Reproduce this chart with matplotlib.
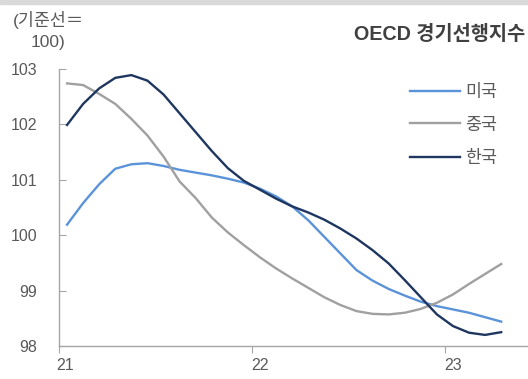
import matplotlib
matplotlib.use("Agg")
import matplotlib.pyplot as plt
from matplotlib.patches import Rectangle

plt.rcParams['font.family'] = ['Liberation Sans', 'Noto Sans CJK KR', 'DejaVu Sans']

# monthly, Jan 2021 .. Apr 2023
months = list(range(28))
us = [100.19, 100.58, 100.92, 101.20, 101.28, 101.30, 101.25, 101.18, 101.13, 101.08,
      101.02, 100.95, 100.84, 100.70, 100.52, 100.27, 99.97, 99.67, 99.37, 99.18,
      99.03, 98.91, 98.80, 98.72, 98.66, 98.60, 98.52, 98.44]
china = [102.74, 102.71, 102.55, 102.37, 102.10, 101.80, 101.42, 100.97, 100.67, 100.32,
         100.05, 99.82, 99.60, 99.40, 99.22, 99.05, 98.88, 98.74, 98.63, 98.58,
         98.57, 98.60, 98.67, 98.78, 98.93, 99.12, 99.30, 99.48]
korea = [101.99, 102.37, 102.65, 102.84, 102.89, 102.79, 102.54, 102.20, 101.86, 101.52,
         101.21, 100.98, 100.82, 100.66, 100.52, 100.41, 100.28, 100.12, 99.94, 99.73,
         99.49, 99.19, 98.88, 98.57, 98.36, 98.24, 98.20, 98.25]
series_names = ['미국', '중국', '한국']
colors = ['#5b93d9', '#a0a0a0', '#1e3660']
year_labels = ['21', '22', '23']

fig = plt.figure(figsize=(5.28, 3.79), dpi=100)
ax = fig.add_axes([59/528, 33/379, 469/528, 277/379])

x = [m + 0.5 for m in months]
for vals, name, c in zip([us, china, korea], series_names, colors):
    ax.plot(x, vals, color=c, lw=1.7, label=name)

ax.set_xlim(0, 469/16.08)
ax.set_ylim(98, 103)

for s in ['top', 'right']:
    ax.spines[s].set_visible(False)
for s in ['left', 'bottom']:
    ax.spines[s].set_color('#a6a6a6')
    ax.spines[s].set_linewidth(1.0)

ax.set_yticks([98, 99, 100, 101, 102, 103])
ax.tick_params(axis='y', direction='in', length=5, color='#a6a6a6', pad=15.5,
               labelsize=11.5, labelcolor='#595959')
ax.set_xticks([0, 12, 24])
ax.set_xticklabels([])
ax.tick_params(axis='x', which='major', direction='out', length=5, color='#a6a6a6')
ax.set_xticks([0.4, 12.5, 24.5], minor=True)
ax.set_xticklabels(year_labels, minor=True)
ax.tick_params(axis='x', which='minor', length=0, pad=9, labelsize=11.5, labelcolor='#595959')

fig.patches.append(Rectangle((0, 1 - 4/379), 1, 4/379, transform=fig.transFigure,
                             color='#d9d9d9', zorder=0))

fig.text(49/528, 1 - 20/379, '(기준선＝', ha='center', va='center', fontsize=12.5, color='#595959')
fig.text(48/528, 1 - 43/379, '100)', ha='center', va='center', fontsize=12.5, color='#595959')
fig.text(525/528, 1 - 35/379, 'OECD 경기선행지수', ha='right', va='center', fontsize=14.2,
         fontweight='bold', color='#404040')

ax.legend(loc='upper left', bbox_to_anchor=(410/528, 1 - 84/379), bbox_transform=fig.transFigure,
          frameon=False, fontsize=12.5, labelcolor='#595959', handlelength=2.9,
          handletextpad=0.3, labelspacing=1.0, borderaxespad=0, borderpad=0)

fig.savefig('out.png', dpi=100)
